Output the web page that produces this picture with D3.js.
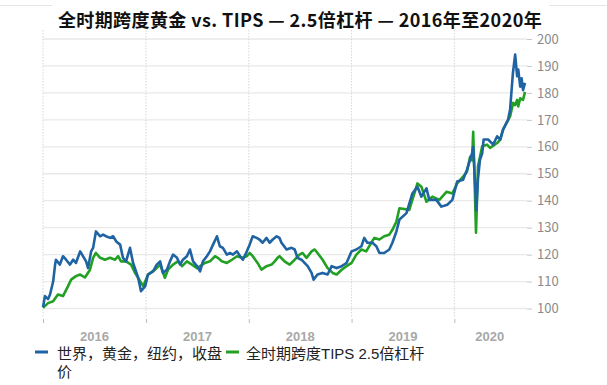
<!DOCTYPE html>
<html><head><meta charset="utf-8">
<script src="https://cdn.jsdelivr.net/npm/d3@7"></script>
<style>
html,body{margin:0;padding:0;background:#fff;}
svg{display:block;font-family:"Noto Sans CJK SC","Noto Sans",sans-serif;}
</style></head>
<body><svg id="c" width="607" height="385"></svg>
<script>
const titleText = "全时期跨度黄金 vs. TIPS — 2.5倍杠杆 — 2016年至2020年";
const seriesNames = ["世界，黄金，纽约，收盘价", "全时期跨度TIPS 2.5倍杠杆"];
const yearLabels = ["2016", "2017", "2018", "2019", "2020"];
const yTicks = [100, 110, 120, 130, 140, 150, 160, 170, 180, 190, 200];

const goldDates = ["2016-01-01","2016-01-08","2016-01-19","2016-01-26","2016-02-06","2016-02-13","2016-02-16","2016-03-01","2016-03-12","2016-03-23","2016-04-06","2016-04-17","2016-04-27","2016-05-12","2016-05-22","2016-06-02","2016-06-09","2016-06-20","2016-06-27","2016-07-07","2016-07-22","2016-08-01","2016-08-12","2016-08-26","2016-09-06","2016-09-17","2016-10-01","2016-10-11","2016-10-22","2016-11-05","2016-11-16","2016-12-04","2016-12-14","2016-12-29","2017-01-08","2017-01-26","2017-02-08","2017-02-20","2017-03-02","2017-03-16","2017-03-27","2017-04-07","2017-04-21","2017-05-02","2017-05-12","2017-05-26","2017-06-06","2017-06-17","2017-07-01","2017-07-12","2017-07-22","2017-08-05","2017-08-16","2017-08-27","2017-09-10","2017-09-20","2017-10-01","2017-10-15","2017-10-26","2017-11-06","2017-11-20","2017-12-01","2017-12-11","2017-12-25","2018-01-04","2018-01-15","2018-01-29","2018-02-08","2018-02-19","2018-03-05","2018-03-16","2018-03-27","2018-04-10","2018-04-20","2018-04-27","2018-05-15","2018-06-02","2018-06-13","2018-06-23","2018-07-07","2018-07-18","2018-07-29","2018-08-12","2018-08-19","2018-09-02","2018-09-20","2018-10-08","2018-10-22","2018-11-09","2018-11-27","2018-12-14","2019-01-01","2019-01-18","2019-02-05","2019-02-15","2019-02-26","2019-03-16","2019-03-30","2019-04-10","2019-04-27","2019-05-15","2019-05-26","2019-06-09","2019-06-20","2019-07-15","2019-08-05","2019-08-23","2019-09-06","2019-09-24","2019-10-04","2019-10-29","2019-11-16","2019-12-07","2019-12-25","2020-01-11","2020-02-01","2020-02-15","2020-02-26","2020-03-04","2020-03-08","2020-03-12","2020-03-19","2020-03-25","2020-04-01","2020-04-09","2020-04-14","2020-04-30","2020-05-18","2020-06-01","2020-06-12","2020-06-22","2020-07-10","2020-07-17","2020-07-27","2020-08-04","2020-08-11","2020-08-15","2020-08-22","2020-08-27","2020-09-01","2020-09-08"];
const goldValues = [100.5,104.6,103.5,105.2,110,116.3,118.1,116.3,119.4,118.1,116.3,118.1,116.9,121.2,119.4,117.5,115,121.2,122.5,128.6,126.8,127.4,126.8,126.2,126.8,124.9,123.7,118.8,117.5,122.5,116.9,111.4,106.4,108.3,112.6,113.8,116.3,117.5,113.2,114.4,117.5,120,118.8,116.3,118.1,119.4,121.9,117.5,115.7,113.8,117.5,119.4,121.2,123.7,126.8,123.1,122.5,120,120.6,120,121.2,119.4,118.1,121.2,123.7,126.8,126.2,125.6,124.4,126.2,124.4,125.6,126.8,126.2,124.4,121.9,122.5,121.9,118.8,118.1,116.9,115.7,113.2,110.7,112.6,113.2,112.6,115.7,115,115.7,116.9,121.2,121.9,123.1,126.2,124.4,124.4,123.1,120.6,120.6,121.9,124.4,128.5,133,135.4,142.7,145.2,141.5,144.6,140.3,140.3,137.8,138.5,140.3,147.1,147.8,151.5,155.2,157.7,160,152,136.5,148,155.2,157.6,162.7,162.7,160.8,163.9,162.7,166.4,170.1,173.7,187.3,194.2,186.2,188.7,182.3,185.4,181,183.7];

const tipsDates = ["2016-01-01","2016-01-19","2016-02-06","2016-02-23","2016-03-12","2016-03-30","2016-04-10","2016-04-27","2016-05-12","2016-05-29","2016-06-16","2016-06-27","2016-07-07","2016-07-22","2016-08-08","2016-08-26","2016-09-13","2016-09-24","2016-10-04","2016-10-22","2016-11-09","2016-11-23","2016-12-11","2016-12-22","2017-01-08","2017-02-02","2017-02-20","2017-03-09","2017-03-20","2017-04-07","2017-04-24","2017-05-09","2017-05-26","2017-06-13","2017-07-01","2017-07-12","2017-07-29","2017-08-16","2017-09-03","2017-09-13","2017-09-27","2017-10-15","2017-11-02","2017-11-20","2017-12-08","2017-12-25","2018-01-04","2018-01-15","2018-02-01","2018-02-15","2018-03-05","2018-03-23","2018-04-03","2018-04-13","2018-04-20","2018-05-08","2018-05-26","2018-06-13","2018-06-30","2018-07-11","2018-07-25","2018-08-12","2018-08-23","2018-09-02","2018-09-20","2018-10-08","2018-10-26","2018-11-09","2018-11-27","2018-12-14","2019-01-01","2019-01-18","2019-02-05","2019-02-22","2019-03-12","2019-03-23","2019-04-10","2019-04-27","2019-05-15","2019-05-26","2019-06-09","2019-06-20","2019-07-25","2019-08-23","2019-09-06","2019-09-24","2019-10-15","2019-11-09","2019-12-04","2019-12-25","2020-01-11","2020-02-01","2020-02-15","2020-02-26","2020-03-04","2020-03-08","2020-03-11","2020-03-18","2020-03-25","2020-04-09","2020-04-26","2020-05-07","2020-06-01","2020-06-12","2020-06-22","2020-07-17","2020-07-28","2020-08-04","2020-08-11","2020-08-15","2020-08-22","2020-09-01","2020-09-08"];
const tipsValues = [100.3,102,102.7,105.2,104.6,108.3,110.7,112,112.6,111.5,114.4,118.8,120.6,118.8,118.1,118.8,118.1,119.4,117.5,117.5,116.3,113.2,110.1,108.3,112.6,114.4,116.3,111.4,114.4,116.3,117.5,115.7,117.5,116.3,115,115.7,116.9,117.5,119.4,118.8,117.5,116.9,118.1,119.4,118.8,119.4,120.6,119.4,116.9,114.4,115.7,116.3,117.5,118.8,119.4,117.5,116.3,118.1,120,120.6,118.8,121.2,121.9,120.6,118.1,115,113.2,112.6,114.4,115.7,116.9,120,121.9,121.2,124.4,126.2,125.6,126.8,127.4,129.2,132.2,137.2,136.6,146.4,145.2,139.6,141.5,140.3,143.3,142.7,146.4,148.9,150.8,156.3,155,165.6,155,128.1,152.8,160.2,160.8,159.6,161.4,162.7,166.4,171.3,176.3,175.5,177.4,175,178,177.4,180.4];

const parse = d3.timeParse("%Y-%m-%d");
const gold = goldDates.map((d, i) => ({date: parse(d), value: goldValues[i]}));
const tips = tipsDates.map((d, i) => ({date: parse(d), value: tipsValues[i]}));

const svg = d3.select("#c");
const L = 43, R = 525, T = 39, B = 308.5;
const x = d3.scaleTime().domain([parse("2016-01-01"), parse("2020-09-08")]).range([L, R]);
const y = d3.scaleLinear().domain([100, 200]).range([B, T]);

// faint header line (as in reference)
svg.append("line").attr("x1", 0).attr("x2", 52).attr("y1", 5.5).attr("y2", 5.5).attr("stroke", "#e4e4e4");
svg.append("line").attr("x1", 549).attr("x2", 607).attr("y1", 5.5).attr("y2", 5.5).attr("stroke", "#e4e4e4");

// horizontal gridlines
svg.append("g").selectAll("line").data(yTicks).join("line")
  .attr("x1", L).attr("x2", R + 2)
  .attr("y1", d => y(d)).attr("y2", d => y(d))
  .attr("stroke", "#e9e9e9").attr("stroke-width", 1.3);

// year boundaries
const yearStarts = yearLabels.map(s => parse(s + "-01-01"));
svg.append("g").selectAll("line").data(yearStarts).join("line")
  .attr("x1", d => x(d)).attr("x2", d => x(d))
  .attr("y1", 30).attr("y2", 318)
  .attr("stroke", "#d6d6d6").attr("stroke-width", 1).attr("stroke-dasharray", "1.5,1.5");

// bottom axis: ticks at year starts, labels centered in each year span
const xAxis = d3.axisBottom(x).tickValues(yearStarts).tickSize(4).tickFormat("");
const gx = svg.append("g").attr("transform", "translate(0,319)").call(xAxis);
gx.select(".domain").remove();
gx.selectAll(".tick text").remove();
gx.selectAll(".tick line").attr("stroke", "#bbb");
const endDate = x.domain()[1];
svg.append("g").selectAll("text").data(yearLabels).join("text")
  .attr("x", (d, i) => {
    const a = yearStarts[i];
    const b = i < yearStarts.length - 1 ? yearStarts[i + 1] : endDate;
    return (x(a) + x(b)) / 2;
  })
  .attr("y", 341)
  .attr("text-anchor", "middle")
  .attr("font-family", "'Liberation Sans',Arial,sans-serif")
  .attr("font-size", 13).attr("font-weight", 700).attr("fill", "#a8a8a8")
  .text(d => d);

// right axis
const yAxis = d3.axisRight(y).tickValues(yTicks).tickSize(5).tickPadding(5);
const gy = svg.append("g").attr("transform", `translate(${R + 2},0)`).call(yAxis);
gy.select(".domain").remove();
gy.selectAll(".tick line").attr("stroke", "#c8c8c8");
gy.selectAll(".tick text").attr("font-size", 13).attr("fill", "#8a8a8a")
  .attr("font-family", "'Noto Sans CJK SC','Noto Sans',sans-serif");

// lines
const line = d3.line().x(d => x(d.date)).y(d => y(d.value)).curve(d3.curveLinear);
const colors = ["#1f63a3", "#22a022"];
svg.append("path").datum(tips).attr("d", line).attr("fill", "none")
  .attr("stroke", colors[1]).attr("stroke-width", 2.6).attr("stroke-linejoin", "round");
svg.append("path").datum(gold).attr("d", line).attr("fill", "none")
  .attr("stroke", colors[0]).attr("stroke-width", 2.6).attr("stroke-linejoin", "round");

// title
svg.append("text").attr("x", 300).attr("y", 27).attr("text-anchor", "middle")
  .attr("font-size", 18).attr("font-weight", 700).attr("fill", "#111")
  .attr("letter-spacing", 0.4)
  .text(titleText);

// legend
const legendFont = "'Liberation Sans','Noto Sans CJK SC',sans-serif";
const lg = svg.append("g").attr("font-family", legendFont);
lg.append("line").attr("x1", 35).attr("x2", 48).attr("y1", 352).attr("y2", 352)
  .attr("stroke", colors[0]).attr("stroke-width", 3);
const t0 = lg.append("text").attr("x", 57).attr("y", 359).attr("font-size", 15).attr("fill", "#222");
t0.append("tspan").attr("x", 57).attr("y", 359).text(seriesNames[0].slice(0, -1));
t0.append("tspan").attr("x", 57).attr("y", 377).text(seriesNames[0].slice(-1));
lg.append("line").attr("x1", 226).attr("x2", 239).attr("y1", 352).attr("y2", 352)
  .attr("stroke", colors[1]).attr("stroke-width", 3);
lg.append("text").attr("x", 246).attr("y", 359).attr("font-size", 15).attr("fill", "#222")
  .text(seriesNames[1]);
</script></body></html>
